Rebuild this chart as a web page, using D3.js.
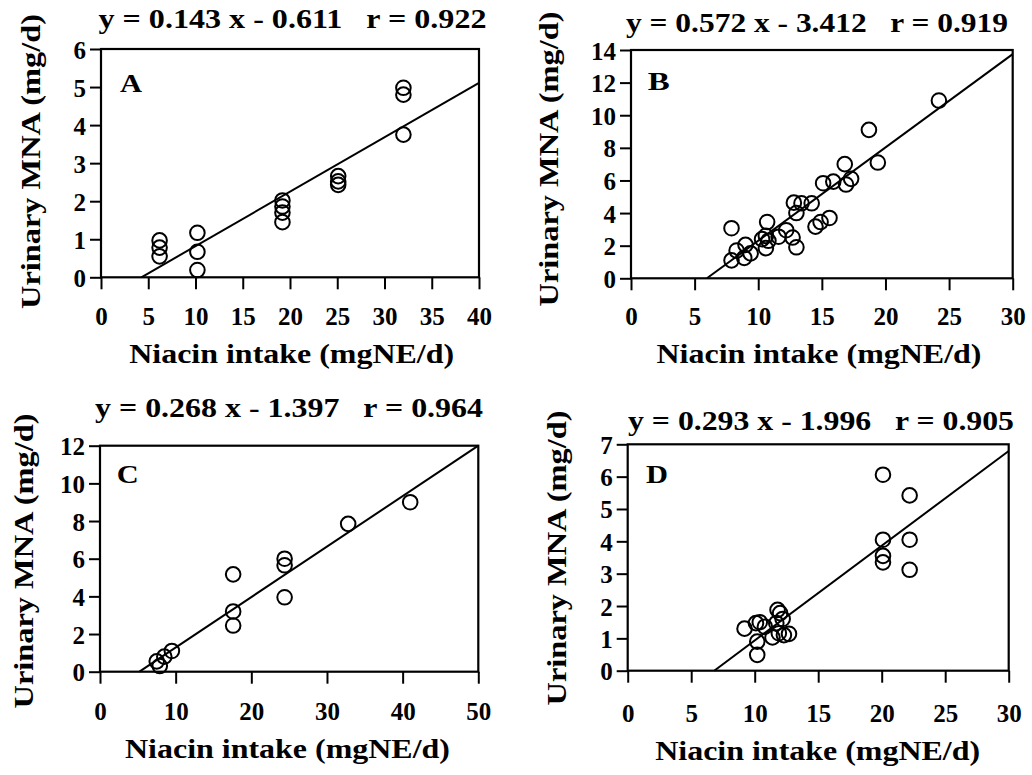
<!DOCTYPE html>
<html>
<head>
<meta charset="utf-8">
<script src="https://cdn.jsdelivr.net/npm/d3@7"></script>
<style>
  html, body { margin: 0; padding: 0; background: #fff; }
  svg { display: block; }
  text { font-family: "Liberation Serif", "Times New Roman", serif; font-weight: bold; fill: #000; }
</style>
</head>
<body>
<svg id="chart" width="1032" height="775"></svg>
<script>
// ---------- data ----------
const panelLabels = ["A", "B", "C", "D"];
const equations = [
  "y = 0.143 x - 0.611   r = 0.922",
  "y = 0.572 x - 3.412   r = 0.919",
  "y = 0.268 x - 1.397   r = 0.964",
  "y = 0.293 x - 1.996   r = 0.905"
];
const slopes = [0.143, 0.572, 0.268, 0.293];
const intercepts = [-0.611, -3.412, -1.397, -1.996];
const xMax = [40, 30, 50, 30];
const yMax = [6, 14, 12, 7];
const xTicksA = [0, 5, 10, 15, 20, 25, 30, 35, 40];
const yTicksA = [0, 1, 2, 3, 4, 5, 6];
const xTicksB = [0, 5, 10, 15, 20, 25, 30];
const yTicksB = [0, 2, 4, 6, 8, 10, 12, 14];
const xTicksC = [0, 10, 20, 30, 40, 50];
const yTicksC = [0, 2, 4, 6, 8, 10, 12];
const xTicksD = [0, 5, 10, 15, 20, 25, 30];
const yTicksD = [0, 1, 2, 3, 4, 5, 6, 7];

const aX = [6.2, 6.2, 6.2, 10.2, 10.2, 10.2, 19.2, 19.2, 19.2, 19.2, 25.1, 25.1, 25.1, 32.0, 32.0, 32.0];
const aY = [0.97, 0.78, 0.55, 1.17, 0.67, 0.19, 2.02, 1.86, 1.70, 1.45, 2.66, 2.52, 2.43, 4.98, 4.80, 3.75];

const bX = [24.2, 18.7, 19.4, 16.8, 17.3, 16.9, 15.9, 15.1, 14.2, 13.4, 12.8, 13.0, 15.6, 14.9, 14.5,
            10.7, 7.9, 12.2, 12.7, 11.6, 13.0, 10.8, 10.6, 10.3, 9.0, 9.4, 8.9, 8.3, 7.9, 10.6];
const bY = [10.9, 9.1, 7.1, 7.0, 6.1, 5.75, 5.93, 5.83, 4.6, 4.6, 4.64, 4.0, 3.7, 3.45, 3.17,
            3.45, 3.07, 2.95, 2.5, 2.55, 1.9, 2.3, 1.85, 2.4, 2.05, 1.53, 1.25, 1.7, 1.1, 2.6];

const cX = [41.0, 32.8, 24.4, 24.4, 24.4, 17.6, 17.6, 17.6, 9.5, 8.5, 7.5, 7.9];
const cY = [9.0, 7.85, 6.0, 5.65, 3.95, 5.17, 3.2, 2.45, 1.1, 0.8, 0.55, 0.3];

const dX = [20.1, 22.2, 20.1, 22.2, 20.1, 20.1, 22.2,
            9.2, 10.1, 10.8, 10.2, 10.2, 11.4, 11.8, 12.0, 12.2, 11.7, 11.9, 12.7, 12.3, 10.4];
const dY = [6.06, 5.42, 4.05, 4.05, 3.55, 3.35, 3.12,
            1.3, 1.47, 1.36, 0.9, 0.49, 1.03, 1.88, 1.78, 1.6, 1.47, 1.16, 1.14, 1.1, 1.5];

// ---------- layout (pixels) ----------
const layout = [
  { left: 101, right: 479, top: 49, bottom: 277.3, xTicks: xTicksA, yTicks: yTicksA, xs: aX, ys: aY,
    titleX: 292.5, titleY: 28, titleW: 388, xLabY: 325, xTitleX: 291.7, xTitleY: 363,
    yTitleX: 40, yTitleY: 161.5, labX: 120, labY: 92 },
  { left: 631, right: 1012.7, top: 50, bottom: 278.3, xTicks: xTicksB, yTicks: yTicksB, xs: bX, ys: bY,
    titleX: 817, titleY: 32, titleW: 382, xLabY: 325, xTitleX: 819, xTitleY: 363,
    yTitleX: 557.7, yTitleY: 159, labX: 647.7, labY: 90 },
  { left: 100, right: 478.3, top: 445.7, bottom: 671.7, xTicks: xTicksC, yTicks: yTicksC, xs: cX, ys: cY,
    titleX: 289, titleY: 416.7, titleW: 388, xLabY: 720, xTitleX: 287.5, xTitleY: 758,
    yTitleX: 33, yTitleY: 561, labX: 116.7, labY: 483 },
  { left: 627.7, right: 1008.7, top: 444.3, bottom: 670.7, xTicks: xTicksD, yTicks: yTicksD, xs: dX, ys: dY,
    titleX: 821, titleY: 430, titleW: 386, xLabY: 721.7, xTitleX: 817.7, xTitleY: 760,
    yTitleX: 566, yTitleY: 558, labX: 646, labY: 483 }
];

const svg = d3.select("#chart");
const FONT = '"Liberation Serif", "Times New Roman", serif';

layout.forEach((L, i) => {
  const x = d3.scaleLinear().domain([0, xMax[i]]).range([L.left, L.right]);
  const y = d3.scaleLinear().domain([0, yMax[i]]).range([L.bottom, L.top]);
  const g = svg.append("g");

  // x axis
  const xa = g.append("g").attr("transform", `translate(0,${L.bottom})`)
    .call(d3.axisBottom(x).tickValues(L.xTicks).tickSize(12).tickSizeOuter(0).tickFormat(d3.format("d")));
  xa.attr("font-family", FONT);
  xa.select(".domain").remove();
  xa.selectAll(".tick line").attr("stroke", "#000").attr("stroke-width", 2);
  xa.selectAll(".tick text").attr("dy", null).attr("y", L.xLabY - L.bottom)
    .style("font-size", "25px").attr("fill", "#000");

  // y axis
  const ya = g.append("g").attr("transform", `translate(${L.left},0)`)
    .call(d3.axisLeft(y).tickValues(L.yTicks).tickSize(11).tickSizeOuter(0).tickFormat(d3.format("d")));
  ya.attr("font-family", FONT);
  ya.select(".domain").remove();
  ya.selectAll(".tick line").attr("stroke", "#000").attr("stroke-width", 2);
  ya.selectAll(".tick text").attr("x", -15).attr("dy", "0.36em")
    .style("font-size", "25px").attr("fill", "#000");

  // frame
  g.append("rect").attr("x", L.left).attr("y", L.top)
    .attr("width", L.right - L.left).attr("height", L.bottom - L.top)
    .attr("fill", "none").attr("stroke", "#000").attr("stroke-width", 2.2);

  // regression line
  const x0 = -intercepts[i] / slopes[i];
  const x1 = xMax[i];
  g.append("line")
    .attr("x1", x(x0)).attr("y1", y(0))
    .attr("x2", x(x1)).attr("y2", y(slopes[i] * x1 + intercepts[i]))
    .attr("stroke", "#000").attr("stroke-width", 2);

  // points
  g.selectAll("circle.pt").data(L.xs.map((v, k) => [v, L.ys[k]])).enter()
    .append("circle").attr("class", "pt")
    .attr("cx", d => x(d[0])).attr("cy", d => y(d[1])).attr("r", 7.3)
    .attr("fill", "none").attr("stroke", "#000").attr("stroke-width", 2);

  // panel letter
  g.append("text").attr("x", L.labX).attr("y", L.labY)
    .style("font-size", "25px").attr("textLength", 22).attr("lengthAdjust", "spacingAndGlyphs")
    .text(panelLabels[i]);

  // equation title
  g.append("text").attr("x", L.titleX).attr("y", L.titleY).attr("text-anchor", "middle")
    .attr("xml:space", "preserve").style("white-space", "pre")
    .style("font-size", "27px").attr("textLength", L.titleW).attr("lengthAdjust", "spacingAndGlyphs")
    .text(equations[i]);

  // x title
  g.append("text").attr("x", L.xTitleX).attr("y", L.xTitleY).attr("text-anchor", "middle")
    .style("font-size", "27px").attr("textLength", 325).attr("lengthAdjust", "spacingAndGlyphs")
    .text("Niacin intake (mgNE/d)");

  // y title
  g.append("text")
    .attr("transform", `translate(${L.yTitleX},${L.yTitleY}) rotate(-90)`)
    .attr("text-anchor", "middle")
    .style("font-size", "27px").attr("textLength", 295).attr("lengthAdjust", "spacingAndGlyphs")
    .text("Urinary MNA (mg/d)");
});
</script>
</body>
</html>
